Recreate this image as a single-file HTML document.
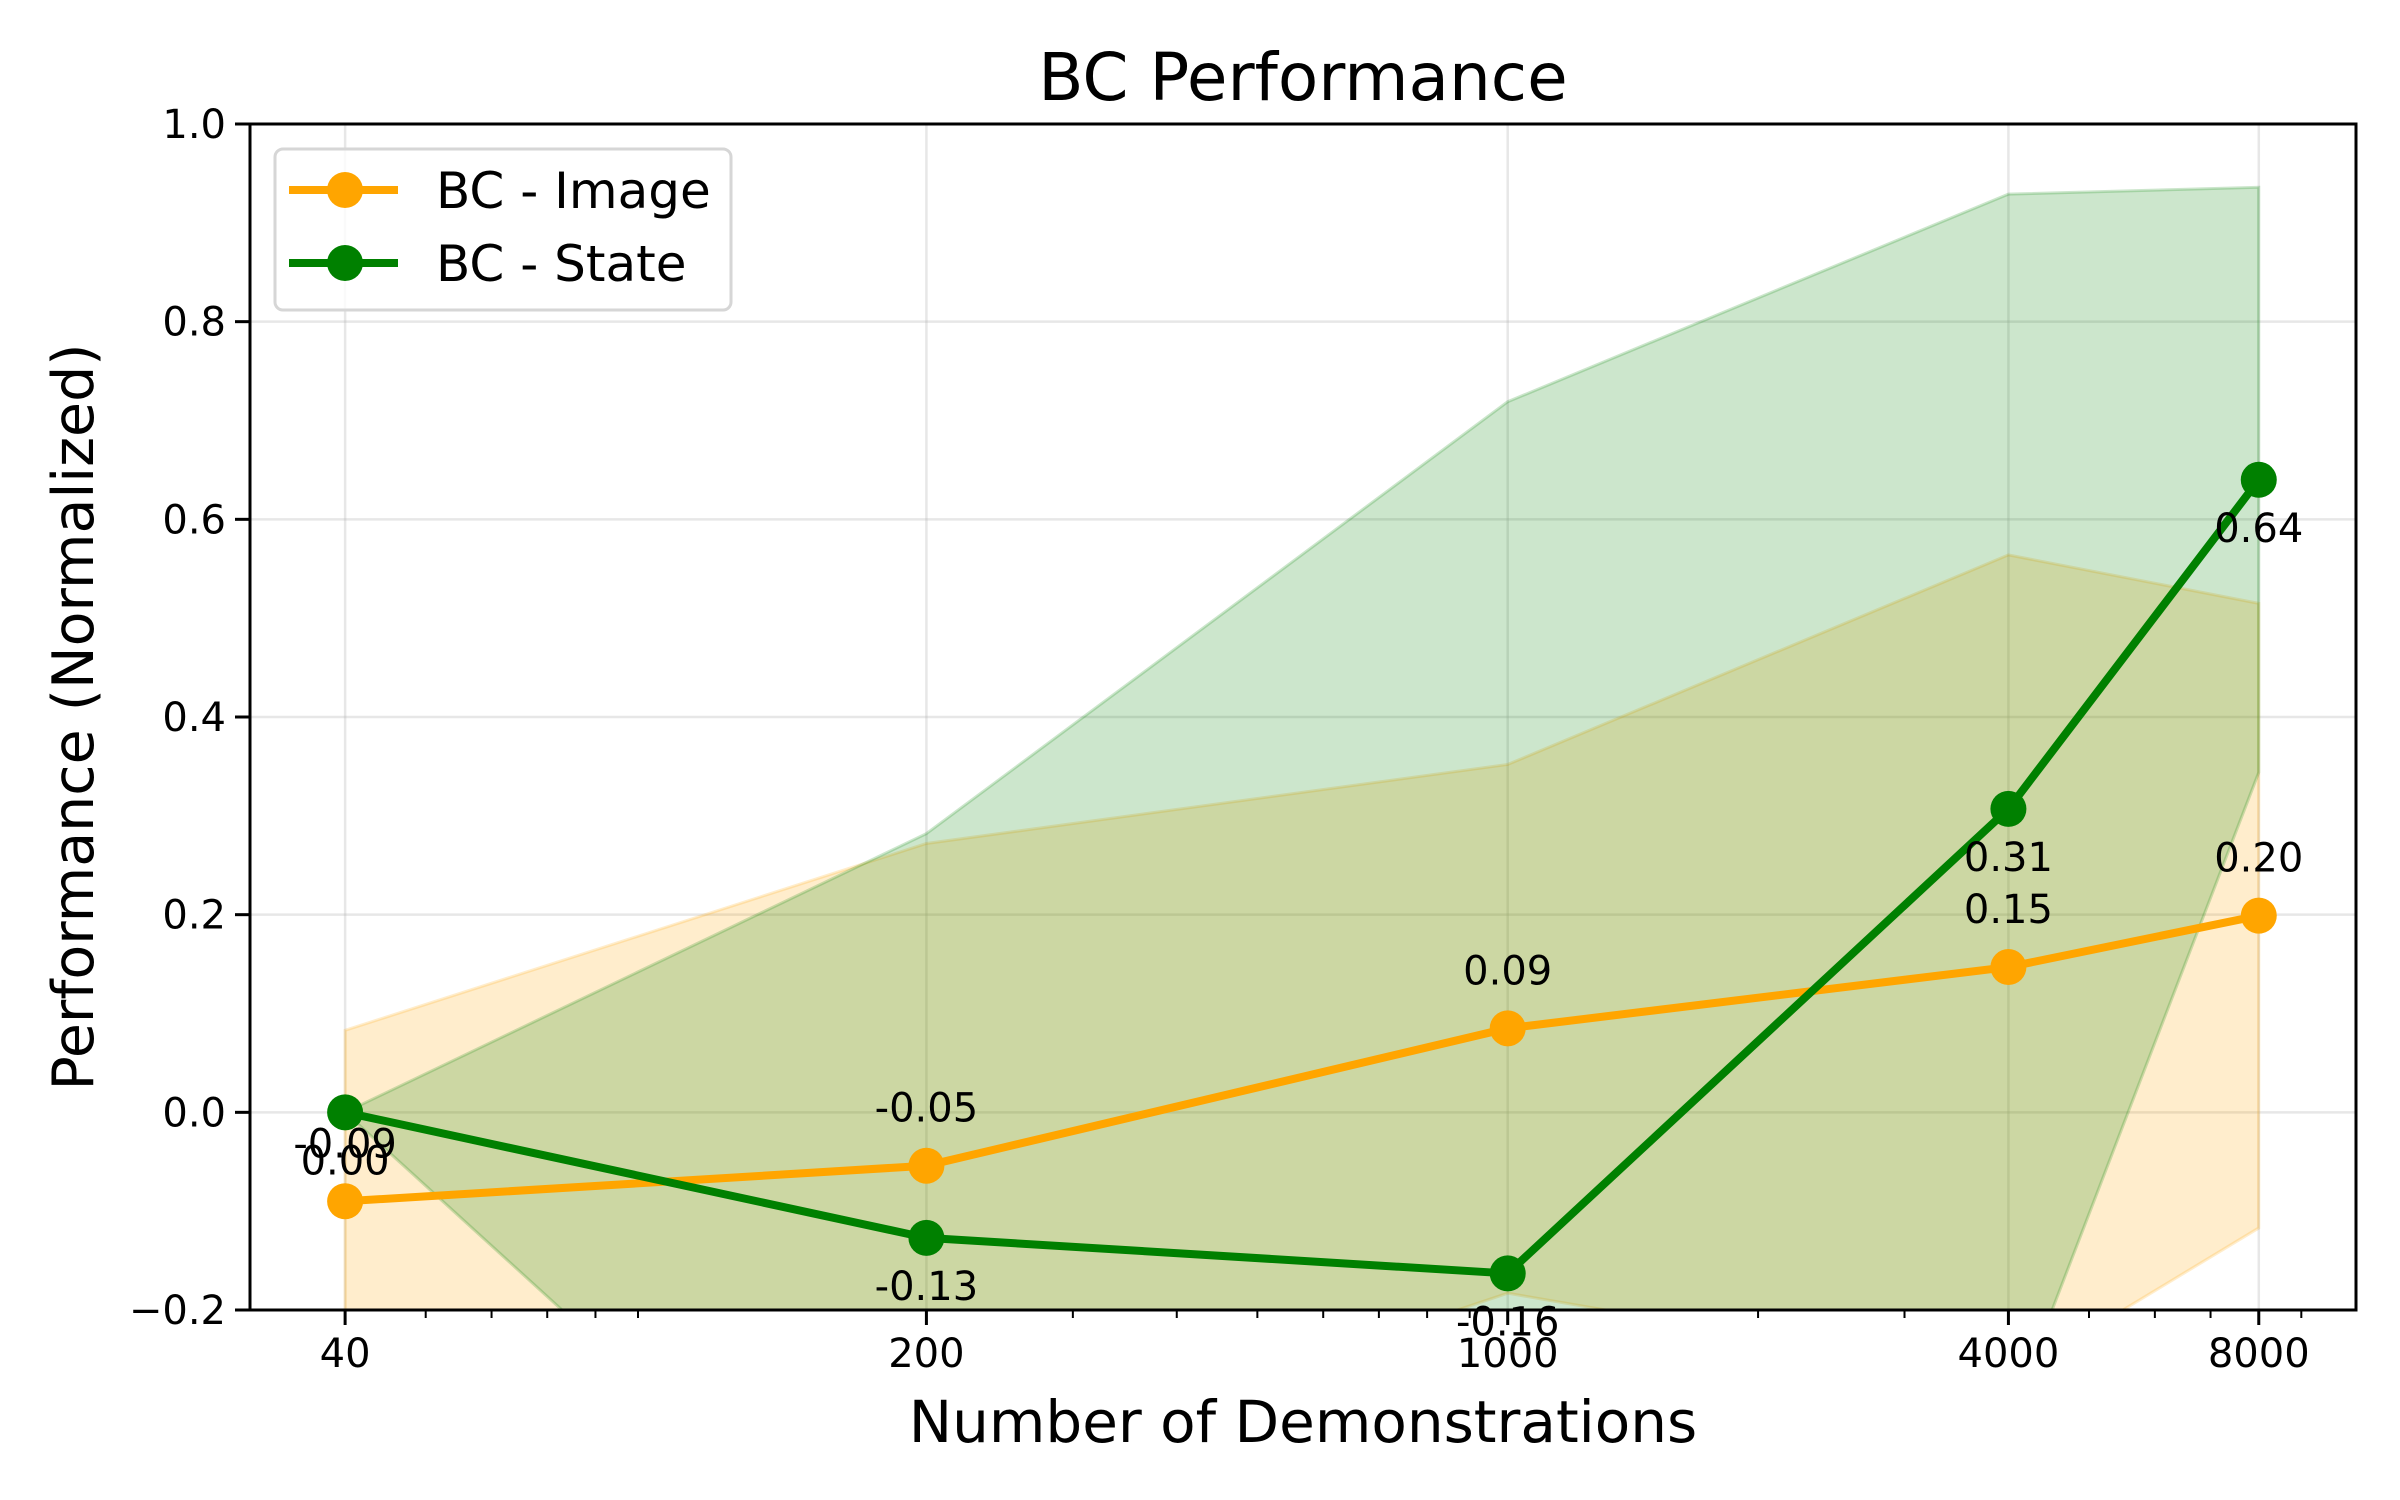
<!DOCTYPE html>
<html><head><meta charset="utf-8"><style>
html,body{margin:0;padding:0;background:#fff;overflow:hidden;width:2400px;height:1500px;}
svg{display:block;font-family:"DejaVu Sans","Liberation Sans",sans-serif;}
</style></head><body>
<svg id="chart" width="2400" height="1500" viewBox="0 0 2400 1500" xmlns="http://www.w3.org/2000/svg">
<rect x="0" y="0" width="2400" height="1500" fill="#fff"/>
<g id="grid"></g>
<g id="bands"></g>
<g id="lines"></g>
<g id="labels"></g>
<g id="axes"></g>
<text x="1303" y="100" font-size="66" text-anchor="middle">BC Performance</text>
<text x="1303" y="1442" font-size="58" text-anchor="middle">Number of Demonstrations</text>
<text x="0" y="0" font-size="57" text-anchor="middle" transform="translate(93,717) rotate(-90)">Performance (Normalized)</text>
<g>
<rect x="275" y="149" width="456" height="161" rx="8" fill="#fff" fill-opacity="0.8" stroke="#d6d6d6" stroke-width="3"/>
<g>
<line x1="289" y1="190" x2="398" y2="190" stroke="#FFA500" stroke-width="8"/>
<circle cx="345" cy="190" r="18" fill="#FFA500"/>
<text x="436" y="208" font-size="50">BC - Image</text>
</g>
<g>
<line x1="289" y1="263" x2="398" y2="263" stroke="#008000" stroke-width="8"/>
<circle cx="345" cy="263" r="18" fill="#008000"/>
<text x="436" y="281" font-size="50">BC - State</text>
</g>
</g>
</svg>
<script>
const categories = [40, 200, 1000, 4000, 8000];
const imageMean = [-0.09, -0.054, 0.085, 0.147, 0.199];
const imageUpper = [0.083, 0.272, 0.352, 0.564, 0.515];
const imageLower = [-0.263, -0.38, -0.183, -0.27, -0.117];
const stateMean = [0.0, -0.127, -0.163, 0.307, 0.64];
const stateUpper = [0.0, 0.282, 0.719, 0.929, 0.936];
const stateLower = [0.0, -0.536, -1.045, -0.315, 0.344];
const imageText = ["-0.09", "-0.05", "0.09", "0.15", "0.20"];
const stateText = ["0.00", "-0.13", "-0.16", "0.31", "0.64"];
const yTicks = [-0.2, 0.0, 0.2, 0.4, 0.6, 0.8, 1.0];
const yTickText = ["\u22120.2", "0.0", "0.2", "0.4", "0.6", "0.8", "1.0"];

const NS = "http://www.w3.org/2000/svg";
const L = 250, R = 2356, T = 124, B = 1310;
const xMin = 1.4877, xMax = 4.020, yMin = -0.2, yMax = 1.0;
function xs(v){ return L + (Math.log10(v) - xMin) / (xMax - xMin) * (R - L); }
function ys(v){ return B - (v - yMin) / (yMax - yMin) * (B - T); }
function mk(tag, attrs, parent){ const e = document.createElementNS(NS, tag); for (const k in attrs) e.setAttribute(k, attrs[k]); parent.appendChild(e); return e; }

const grid = document.getElementById('grid');
const bands = document.getElementById('bands');
const lines = document.getElementById('lines');
const labels = document.getElementById('labels');
const axes = document.getElementById('axes');

const defs = mk('defs', {}, document.getElementById('chart'));
const cp = mk('clipPath', {id:'plotclip'}, defs);
mk('rect', {x:L, y:T, width:R-L, height:B-T}, cp);
bands.setAttribute('clip-path', 'url(#plotclip)');
lines.setAttribute('clip-path', 'url(#plotclip)');

categories.forEach((c, i) => {
  const g = mk('line', {x1:xs(c), x2:xs(c), y1:T, y2:B, stroke:'#b0b0b0', 'stroke-opacity':0.3, 'stroke-width':2.5}, grid);
  
  
  const t = mk('line', {x1:xs(c), x2:xs(c), y1:B, y2:B+15, stroke:'#000', 'stroke-width':3}, axes);
  
  
  const tx = mk('text', {x:xs(c), y:B+57, 'font-size':40, 'text-anchor':'middle'}, axes);
  tx.textContent = String(c);
  
  
});
for (let d = 1; d <= 4; d++) {
  for (let m = 2; m <= 9; m++) {
    const v = m * Math.pow(10, d);
    const lv = Math.log10(v);
    if (lv < xMin || lv > xMax) continue;
    if (categories.indexOf(v) >= 0) continue;
    const t = mk('line', {x1:xs(v), x2:xs(v), y1:B, y2:B+8, stroke:'#000', 'stroke-width':2}, axes);
    
    
  }
}
yTicks.forEach((v, i) => {
  const g = mk('line', {x1:L, x2:R, y1:ys(v), y2:ys(v), stroke:'#b0b0b0', 'stroke-opacity':0.3, 'stroke-width':2.5}, grid);
  
  
  const t = mk('line', {x1:L-15, x2:L, y1:ys(v), y2:ys(v), stroke:'#000', 'stroke-width':3}, axes);
  
  
  const tx = mk('text', {x:L-24, y:ys(v)+14, 'font-size':40, 'text-anchor':'end'}, axes);
  tx.textContent = yTickText[i];
  
  
});
const frame = mk('rect', {x:L, y:T, width:R-L, height:B-T, fill:'none', stroke:'#000', 'stroke-width':3}, axes);



function band(upper, lower, color, name){
  let pts = categories.map((c,i)=>xs(c)+','+ys(upper[i]));
  for (let i = categories.length-1; i >= 0; i--) pts.push(xs(categories[i])+','+ys(lower[i]));
  const p = mk('polygon', {points:pts.join(' '), fill:color, 'fill-opacity':0.2, stroke:color, 'stroke-opacity':0.2, 'stroke-width':3}, bands);
  
  
}
band(imageUpper, imageLower, '#FFA500', 'image-std-band');
band(stateUpper, stateLower, '#008000', 'state-std-band');

function series(mean, color, name, texts, dy){
  const pts = categories.map((c,i)=>xs(c)+','+ys(mean[i])).join(' ');
  const pl = mk('polyline', {points:pts, fill:'none', stroke:color, 'stroke-width':8, 'stroke-linejoin':'round'}, lines);
  
  
  categories.forEach((c,i)=>{
    const ci = mk('circle', {cx:xs(c), cy:ys(mean[i]), r:18, fill:color}, lines);
    
    
    const t = mk('text', {x:xs(c), y:ys(mean[i])+dy, 'font-size':40, 'text-anchor':'middle'}, labels);
    t.textContent = texts[i];
    
    
  });
}
series(imageMean, '#FFA500', 'image', imageText, -44);
series(stateMean, '#008000', 'state', stateText, 62);
</script>
</body></html>
